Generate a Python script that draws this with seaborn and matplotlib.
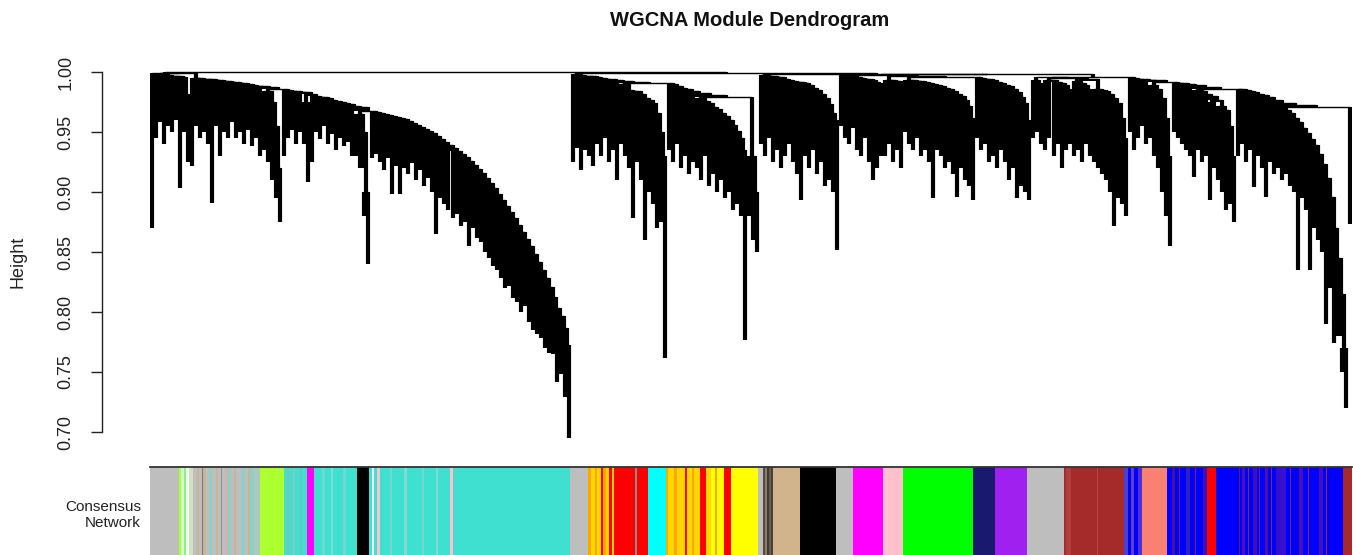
import sys
import numpy as np
import matplotlib
matplotlib.use("Agg")
import matplotlib.pyplot as plt
from matplotlib.collections import LineCollection, PolyCollection
from matplotlib.colors import ListedColormap
import seaborn as sns

sys.setrecursionlimit(10000)

# ---------------------------------------------------------------------------
# Gene tree, leaves in plotting order.  *_TIPS: height of each leaf,
# *_GAPS: merge height between neighbouring leaves inside a branch,
# BRANCH_LINKS: merge height between the last leaf of a branch and the next.
# ---------------------------------------------------------------------------
A_TIPS = [0.870,
          0.945, 0.958, 0.940, 0.955, 0.950, 0.960, 0.903, 0.950, 0.925,
          0.922, 0.955, 0.945, 0.950, 0.940, 0.891, 0.955, 0.930, 0.950,
          0.945, 0.958, 0.945, 0.950, 0.940, 0.952, 0.938, 0.945, 0.930,
          0.935, 0.925, 0.910, 0.895, 0.875,
          0.930, 0.945, 0.952, 0.940, 0.950,
          0.940, 0.908,
          0.925, 0.950, 0.944, 0.955, 0.940, 0.948, 0.935, 0.945, 0.938, 0.942, 0.930,
          0.930, 0.920, 0.880, 0.840,
          0.928, 0.932, 0.925, 0.918, 0.928, 0.898, 0.922, 0.898, 0.920, 0.915,
          0.924, 0.910, 0.918, 0.905, 0.912, 0.900, 0.865, 0.895, 0.890, 0.885,
          0.878, 0.882, 0.872, 0.875, 0.855, 0.870, 0.862, 0.858, 0.850, 0.845,
          0.838, 0.835, 0.828, 0.820, 0.822, 0.812, 0.808, 0.800, 0.805, 0.792,
          0.785, 0.782, 0.778, 0.770, 0.766, 0.765, 0.742, 0.748, 0.729, 0.695]
A_GAPS = [0.9995,
          0.9985, 0.998, 0.9975, 0.997, 0.9968, 0.9965, 0.996, 0.982,
          0.999,
          0.995, 0.9948, 0.9945, 0.994, 0.9938, 0.9935, 0.993, 0.9927, 0.9922,
          0.992, 0.9915, 0.991, 0.9905, 0.990, 0.9893, 0.9887, 0.988, 0.9875,
          0.984, 0.975, 0.955, 0.920,
          0.9855,
          0.985, 0.9845, 0.984, 0.9835, 0.983,
          0.975,
          0.982,
          0.980, 0.9795, 0.979, 0.978, 0.977, 0.976, 0.975, 0.974, 0.973, 0.972, 0.9705,
          0.965, 0.950, 0.900,
          0.9675,
          0.9667, 0.9658, 0.965, 0.9642, 0.9633, 0.9625, 0.9617, 0.9608, 0.959, 0.9575,
          0.956, 0.954, 0.9525, 0.951, 0.949, 0.9467, 0.944, 0.9417, 0.939, 0.9367,
          0.934, 0.9317, 0.929, 0.926, 0.9225, 0.919, 0.916, 0.9117, 0.9075, 0.903,
          0.898, 0.893, 0.888, 0.883, 0.878, 0.8725, 0.8667, 0.861, 0.855, 0.848,
          0.842, 0.835, 0.828, 0.821, 0.8125, 0.8033, 0.797, 0.787, 0.7725]

B_TIPS = [0.925, 0.937, 0.918, 0.935, 0.930, 0.922,
          0.940, 0.930, 0.945, 0.925, 0.935, 0.910,
          0.940, 0.930, 0.920, 0.878, 0.925, 0.910, 0.860, 0.900, 0.890, 0.870, 0.875, 0.762,
          0.935, 0.925, 0.940, 0.920, 0.930, 0.915, 0.925,
          0.920, 0.910, 0.930, 0.905, 0.915, 0.900, 0.910, 0.895, 0.900, 0.885, 0.890, 0.880, 0.777,
          0.880, 0.860, 0.850]
B_GAPS = [0.998, 0.9975, 0.997, 0.9968, 0.9965, 0.9962,
          0.995, 0.9945, 0.994, 0.993, 0.9925, 0.992,
          0.990, 0.985, 0.9845, 0.984, 0.982, 0.978, 0.977, 0.9745, 0.966, 0.950, 0.930,
          0.991,
          0.9898, 0.9885, 0.987, 0.9855, 0.984, 0.9825, 0.981,
          0.978, 0.976, 0.974, 0.971, 0.969, 0.966, 0.963, 0.960, 0.956, 0.951, 0.945, 0.935,
          0.9795,
          0.930, 0.900]

C_TIPS = [0.940, 0.930, 0.945, 0.925, 0.935, 0.920, 0.930, 0.940, 0.925, 0.915,
          0.893, 0.930, 0.920, 0.935, 0.915, 0.925, 0.905, 0.910, 0.900, 0.852]
C_GAPS = [0.9975, 0.997, 0.9965, 0.996, 0.9955, 0.9945, 0.9935, 0.9925, 0.992, 0.9915,
          0.9905, 0.989, 0.987, 0.985, 0.982, 0.978, 0.973, 0.966, 0.960]

D_TIPS = [0.955, 0.945, 0.940, 0.953, 0.935, 0.930, 0.945, 0.925, 0.910, 0.920, 0.930,
          0.930, 0.940, 0.925, 0.935, 0.920,
          0.950, 0.940, 0.935, 0.945, 0.930, 0.935, 0.925, 0.895, 0.935, 0.930,
          0.920, 0.925, 0.915, 0.896, 0.920, 0.910, 0.905, 0.893,
          0.945, 0.935, 0.940, 0.925, 0.930, 0.920, 0.935, 0.925, 0.910, 0.920,
          0.895, 0.905, 0.900, 0.893]
D_GAPS = [0.9975, 0.997, 0.9965, 0.996, 0.995, 0.9945, 0.994, 0.993, 0.9915, 0.9905,
          0.9978,
          0.9933, 0.993, 0.9928, 0.9925,
          0.9965,
          0.9933, 0.993, 0.9927, 0.9922, 0.9915, 0.991, 0.9902, 0.989, 0.988, 0.9865,
          0.9855, 0.984, 0.982, 0.980, 0.977, 0.972, 0.962,
          0.9958,
          0.995, 0.9945, 0.994, 0.993, 0.992, 0.991, 0.9895, 0.988, 0.986, 0.983,
          0.979, 0.974, 0.960]

E_TIPS = [0.945, 0.950, 0.940, 0.935, 0.945, 0.930, 0.940, 0.920, 0.935, 0.940,
          0.930, 0.935, 0.925, 0.940, 0.930, 0.925, 0.920, 0.915, 0.910, 0.900,
          0.872, 0.895, 0.890, 0.880]
E_GAPS = [0.993, 0.991, 0.9955, 0.9935, 0.993, 0.992, 0.9905, 0.989, 0.986, 0.995,
          0.9925, 0.991, 0.989, 0.986, 0.9945, 0.9855, 0.985, 0.984, 0.982, 0.978,
          0.974, 0.962, 0.945]

F_TIPS = [0.950, 0.935, 0.945, 0.955, 0.940, 0.945, 0.930, 0.920, 0.900, 0.880, 0.855]
F_GAPS = [0.995, 0.9945, 0.994, 0.9935, 0.993, 0.989, 0.986, 0.978, 0.962, 0.930]

G_TIPS = [0.950, 0.945, 0.940, 0.935, 0.930, 0.9125, 0.935, 0.925, 0.930, 0.893,
          0.920, 0.910, 0.900, 0.885, 0.890, 0.875]
G_GAPS = [0.9912, 0.991, 0.990, 0.989, 0.9875, 0.985, 0.984, 0.982, 0.980, 0.975,
          0.977, 0.972, 0.968, 0.955, 0.930]

H_TIPS = [0.930, 0.940, 0.925, 0.935, 0.904, 0.930, 0.920, 0.896, 0.925, 0.915,
          0.920, 0.910, 0.915, 0.905, 0.900, 0.835, 0.895, 0.885, 0.835, 0.870,
          0.860, 0.850, 0.790, 0.820, 0.774, 0.780, 0.750, 0.720,
          0.873]
H_GAPS = [0.9858, 0.985, 0.984, 0.983, 0.982, 0.9805, 0.979, 0.977, 0.9745, 0.9725,
          0.9705, 0.968, 0.9655, 0.962, 0.958, 0.953, 0.949, 0.944, 0.939, 0.932,
          0.923, 0.912, 0.896, 0.870, 0.845, 0.815, 0.770,
          0.971]

BRANCH_LINKS = [0.9997, 0.9988, 0.9985, 0.998, 0.996, 0.9917, 0.9862]

# Module colour strip: colour of each run and its number of genes
STRIP_COLORS = [
    "#BEBEBE", "#ADFF2F", "#CCFFCC", "#90EE90", "#F0FFF0", "#D0E0C0",
    "#BEBEBE", "#C8B496", "#BEBEBE", "#7A7A7A", "#C8B496", "#BEBEBE", "#8FCFC6",
    "#BEBEBE", "#C8B496", "#BEBEBE", "#909090", "#BEBEBE", "#D6B0A8", "#8FCFC6",
    "#BEBEBE", "#C8B496", "#BEBEBE", "#8FCFC6", "#BEBEBE", "#C8B496", "#8FCFC6",
    "#A8C8C0",
    "#ADFF2F",
    "#40E0D0", "#7FBFB8", "#40E0D0", "#8CC4C0", "#40E0D0", "#60C8C0", "#40E0D0",
    "#FF00FF",
    "#40E0D0", "#70D8D0", "#40E0D0", "#80DCD4", "#40E0D0", "#70D8D0", "#40E0D0",
    "#000000",
    "#40E0D0", "#F0FFFF", "#40E0D0", "#FFC0CB",
    "#40E0D0", "#6FD9CF", "#40E0D0", "#80DBD3", "#40E0D0", "#6FD9CF", "#40E0D0",
    "#80DBD3", "#40E0D0",
    "#FFC0CB", "#40E0D0", "#BEBEBE",
    "#FFA500", "#FFD700", "#FFA500", "#FFD700", "#FF0000", "#FFA500", "#FFD700",
    "#FF0000", "#FFD700", "#FF0000",
    "#8C8C8C", "#FF0000", "#00FFFF",
    "#FFA500", "#FFD700", "#FFA500", "#FFD700", "#FF0000", "#FFD700", "#FFA500",
    "#FFD700",
    "#FF0000", "#FFD700", "#FFFF00", "#FFA500", "#FFFF00", "#FF0000", "#FFFF00",
    "#BEBEBE", "#5A4A3C", "#8B7D6B", "#3B3B3B", "#6B5B4B", "#4A4038",
    "#D2B48C", "#000000", "#BEBEBE", "#FF00FF", "#FFC0CB", "#00FF00",
    "#191970", "#A020F0", "#BEBEBE",
    "#A52A2A", "#B04040", "#A52A2A", "#B84848", "#A52A2A",
    "#4B3FD8", "#0000FF", "#6040C0", "#0000FF", "#5030D0",
    "#FA8072",
    "#0000FF", "#4010A0", "#0000FF", "#7A1A5A", "#0000FF", "#3020C0", "#0000FF",
    "#8B2050", "#0000FF", "#4010B0",
    "#FF0000",
    "#0000FF", "#6A1A6A", "#0000FF", "#4A10B0", "#0000FF", "#8A2A4A", "#0000FF",
    "#3A10C0", "#0000FF", "#7A2060", "#0000FF", "#5010A0", "#0000FF", "#8A2A4A",
    "#0000FF", "#3010D0",
    "#3A10D0", "#0000FF", "#7A2A60", "#0000FF", "#4A10B0", "#0000FF", "#8A2A4A",
    "#0000FF", "#4010B8", "#0000FF", "#A03030", "#0000FF",
    "#A52A2A",
]
STRIP_SIZES = [
    29, 2, 3, 2, 3, 4,
    4, 2, 3, 1, 3, 3, 3,
    4, 2, 3, 1, 4, 2, 3,
    3, 2, 5, 4, 3, 2, 4,
    6,
    24,
    3, 2, 4, 2, 5, 2, 5,
    7,
    8, 3, 6, 2, 10, 3, 11,
    12,
    3, 2, 3, 3,
    10, 2, 12, 3, 15, 2, 12,
    2, 12,
    3, 117, 18,
    3, 4, 2, 4, 2, 3, 3,
    3, 2, 21,
    2, 11, 18,
    2, 6, 3, 8, 2, 5, 2,
    6,
    6, 5, 4, 2, 7, 7, 27,
    5, 2, 2, 2, 2, 2,
    27, 36, 17, 30, 20, 70,
    22, 32, 37,
    2, 5, 26, 1, 26,
    4, 3, 3, 4, 4,
    25,
    5, 3, 4, 1, 6, 4, 5,
    1, 7, 4,
    9,
    23, 1, 2, 3, 3, 1, 4,
    4, 2, 1, 5, 3, 3, 1,
    4, 4,
    6, 4, 1, 8, 4, 5, 1,
    10, 4, 3, 1, 16,
    9,
]

Y_TICKS = [0.70, 0.75, 0.80, 0.85, 0.90, 0.95, 1.00]

# ---------------------------------------------------------------------------
sns.set_theme(style="ticks")
plt.rcParams["font.family"] = ["Liberation Sans", "DejaVu Sans"]

branches = [(A_TIPS, A_GAPS), (B_TIPS, B_GAPS), (C_TIPS, C_GAPS), (D_TIPS, D_GAPS),
            (E_TIPS, E_GAPS), (F_TIPS, F_GAPS), (G_TIPS, G_GAPS), (H_TIPS, H_GAPS)]
tips = np.concatenate([np.asarray(t, float) for t, _ in branches])
gap_list = []
for i, (_, g) in enumerate(branches):
    gap_list.extend(g)
    if i < len(BRANCH_LINKS):
        gap_list.append(BRANCH_LINKS[i])
gaps = np.asarray(gap_list, float)
n_leaves = len(tips)

vert_segs, horiz_segs, shades = [], [], []


def build(lo, hi):
    """Ordered dendrogram: split at the highest merge between neighbours."""
    if lo == hi:
        return float(lo), tips[lo]
    k = lo + int(np.argmax(gaps[lo:hi]))
    h = gaps[k]
    cl, hl = build(lo, k)
    cr, hr = build(k + 1, hi)
    vert_segs.append([(cl, min(hl, h)), (cl, h)])
    vert_segs.append([(cr, min(hr, h)), (cr, h)])
    horiz_segs.append([(cl, h), (cr, h)])
    # the densely packed branches read as solid ink under each merge bar
    base = max(hl, hr)
    if base < h:
        shades.append([(cl, base), (cr, base), (cr, h), (cl, h)])
    return (cl + cr) / 2.0, h


build(0, n_leaves - 1)

W, H = 1353, 555
fig = plt.figure(figsize=(W / 100, H / 100), dpi=100)


def px_rect(x0, y0, x1, y1):
    return [x0 / W, 1 - y1 / H, (x1 - x0) / W, (y1 - y0) / H]


ax = fig.add_axes(px_rect(150, 60, 1352, 460))
ax.add_collection(PolyCollection(shades, facecolors="black", edgecolors="none",
                                 linewidths=0))
ax.add_collection(LineCollection(vert_segs, colors="black", linewidths=3.0,
                                 capstyle="butt"))
ax.add_collection(LineCollection(horiz_segs, colors="black", linewidths=1.0,
                                 capstyle="butt"))
ax.set_xlim(-0.5, n_leaves - 0.5)
ax.set_ylim(0.70 - 28 / 1200, 1.00 + 12 / 1200)
ax.set_facecolor("white")
for side in ("top", "right", "bottom"):
    ax.spines[side].set_visible(False)
ax.spines["left"].set_position(("outward", 48 * 0.72))
ax.spines["left"].set_bounds(0.70, 1.00)
ax.spines["left"].set_color("#222222")
ax.spines["left"].set_linewidth(1.0)
ax.set_xticks([])
ax.set_yticks(Y_TICKS)
ax.set_yticklabels([f"{v:.2f}" for v in Y_TICKS], rotation=90, va="center",
                   fontsize=13, color="#222222")
ax.tick_params(axis="y", left=True, length=8, width=1.0, pad=12,
               color="#222222", direction="out")

fig.text(18 / W, 1 - 262 / H, "Height", rotation=90, ha="center", va="center",
         fontsize=13, color="#222222")
fig.text(750 / W, 1 - 21 / H, "WGCNA Module Dendrogram", ha="center",
         va="center", fontsize=14.5, fontweight="bold", color="#111111")

# module colour strip
bar = fig.add_axes(px_rect(150, 467, 1352, 555))
palette = list(dict.fromkeys(STRIP_COLORS))
codes = np.repeat([palette.index(c) for c in STRIP_COLORS], STRIP_SIZES)[None, :]
sns.heatmap(codes, cmap=ListedColormap(palette), vmin=-0.5,
            vmax=len(palette) - 0.5, cbar=False, xticklabels=False,
            yticklabels=False, ax=bar)
bar.spines["top"].set_visible(True)
bar.spines["top"].set_color("#333333")
bar.spines["top"].set_linewidth(1.3)

fig.text(141 / W, 1 - 515 / H, "Consensus\nNetwork", ha="right", va="center",
         multialignment="right", fontsize=11, color="#222222")

fig.savefig("out.png", dpi=100)
